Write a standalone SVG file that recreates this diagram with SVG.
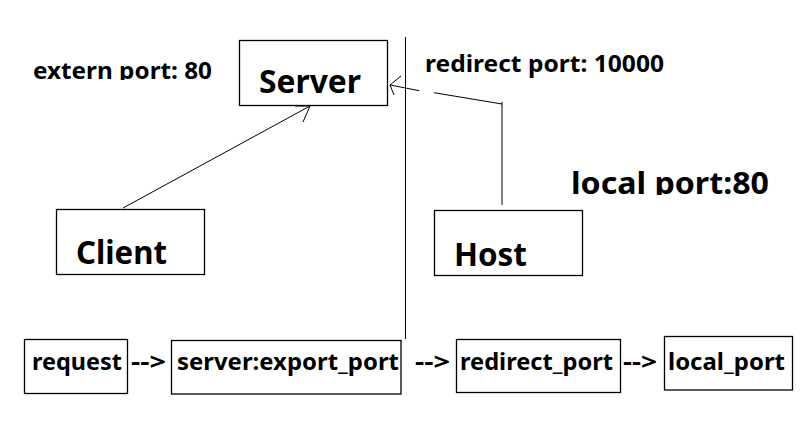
<svg xmlns="http://www.w3.org/2000/svg" width="806" height="431" viewBox="0 0 806 431">
<style>
.box{fill:#fff;stroke:#000;stroke-width:1.3}
.t{font-family:"Noto Sans","Open Sans","DejaVu Sans",sans-serif;font-weight:bold;fill:#000}
.big{font-size:33px}
.mid{font-size:24px}
.ln{stroke:#000;stroke-width:1;fill:none}
</style>
<defs>
<clipPath id="clipExt"><rect x="0" y="40" width="240" height="40"/></clipPath>
<clipPath id="clipLocal"><rect x="540" y="150" width="266" height="45"/></clipPath>
</defs>
<rect width="806" height="431" fill="#fff"/>

<g id="connectors">
<line class="ln" x1="405.5" y1="37" x2="405.5" y2="339" stroke-width="1.3"/>
<line class="ln" x1="123" y1="208" x2="310" y2="106"/>
<polyline class="ln" points="303,122 310,106 295,106" stroke-width="1.5"/>
<line class="ln" x1="502" y1="205" x2="502" y2="102"/>
<line class="ln" x1="502" y1="104" x2="434" y2="92.7"/>
<line class="ln" x1="419.3" y1="90.7" x2="390" y2="85"/>
<polyline class="ln" points="401,76 390,85 394,95"/>
</g>

<g id="label-extern"><text class="t mid" x="33" y="79" textLength="179" lengthAdjust="spacingAndGlyphs" clip-path="url(#clipExt)">extern port: 80</text></g>
<g id="label-redirect"><text class="t mid" x="425" y="72" textLength="239" lengthAdjust="spacingAndGlyphs">redirect port: 10000</text></g>
<g id="label-local"><text class="t" font-size="31" x="571" y="194" textLength="198" lengthAdjust="spacingAndGlyphs" clip-path="url(#clipLocal)">local port:80</text></g>

<g id="server">
<rect class="box" x="239.5" y="40.5" width="148" height="65"/>
<text class="t big" x="259" y="93" textLength="102" lengthAdjust="spacingAndGlyphs">Server</text>
</g>
<g id="client">
<rect class="box" x="56.5" y="209.5" width="148" height="65"/>
<text class="t big" x="76" y="264" textLength="91" lengthAdjust="spacingAndGlyphs">Client</text>
</g>
<g id="host">
<rect class="box" x="434.5" y="210.5" width="148" height="65"/>
<text class="t big" x="454" y="265.5" textLength="73" lengthAdjust="spacingAndGlyphs">Host</text>
</g>

<g id="request">
<rect class="box" x="24.5" y="339.5" width="103" height="54"/>
<text class="t mid" x="32" y="370" textLength="90" lengthAdjust="spacingAndGlyphs">request</text>
</g>
<g id="arrow1"><text class="t mid" x="131" y="370" textLength="35" lengthAdjust="spacingAndGlyphs">--&gt;</text></g>
<g id="export">
<rect class="box" x="171.5" y="340.5" width="229.5" height="53.5"/>
<text class="t mid" x="177" y="370" textLength="222" lengthAdjust="spacingAndGlyphs">server:export_port</text>
</g>
<g id="arrow2"><text class="t mid" x="415" y="370" textLength="35" lengthAdjust="spacingAndGlyphs">--&gt;</text></g>
<g id="redirect">
<rect class="box" x="456.5" y="339.5" width="164" height="53"/>
<text class="t mid" x="460" y="370" textLength="153" lengthAdjust="spacingAndGlyphs">redirect_port</text>
</g>
<g id="arrow3"><text class="t mid" x="623" y="370" textLength="34" lengthAdjust="spacingAndGlyphs">--&gt;</text></g>
<g id="local">
<rect class="box" x="664.5" y="336.5" width="128" height="53.5"/>
<text class="t mid" x="668" y="370" textLength="117" lengthAdjust="spacingAndGlyphs">local_port</text>
</g>
</svg>
